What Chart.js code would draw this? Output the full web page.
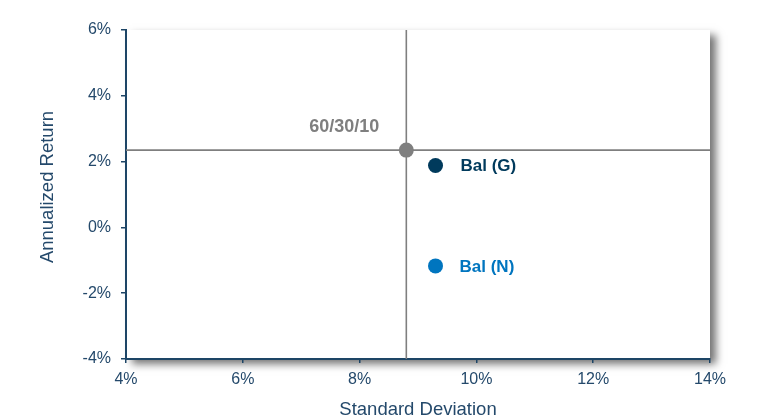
<!DOCTYPE html>
<html>
<head>
<meta charset="utf-8">
<script src="https://cdn.jsdelivr.net/npm/chart.js@4"></script>
<style>
    html, body { margin: 0; padding: 0; background: #fff; }
    #wrap { width: 765px; height: 417px; }
</style>
</head>
<body>
<div id="wrap"><canvas id="risk"></canvas></div>
<script>
// データ
const names = ['60/30/10', 'Bal (G)', 'Bal (N)'];
const stdDev = [8.8, 9.3, 9.3];
const annReturn = [2.35, 1.88, -1.17];
const pointColors = ['#7f7f7f', '#003a5c', '#0075bf'];
const xRange = [4, 14];
const yRange = [-4, 6];
const tickStep = 2;

// ベンチマーク(60/30/10)の十字線
const benchX = stdDev[0];
const benchY = annReturn[0];

const NAVY = '#1d4566';
const TEXT = '#24496b';
const FONT = "'Liberation Sans', Arial, sans-serif";

// プロット領域の影 + 縦軸タイトル
const shadowPlugin = {
    id: 'areaShadow',
    beforeDraw(chart) {
        const { ctx, chartArea: a } = chart;
        ctx.save();
        ctx.shadowColor = 'rgba(0,0,0,0.55)';
        ctx.shadowBlur = 8;
        ctx.shadowOffsetX = 6;
        ctx.shadowOffsetY = 5;
        ctx.fillStyle = '#fff';
        ctx.fillRect(a.left, a.top, a.right - a.left, a.bottom - a.top);
        ctx.restore();

        ctx.save();
        ctx.translate(48, 187);
        ctx.rotate(-Math.PI / 2);
        ctx.font = '18.5px ' + FONT;
        ctx.fillStyle = TEXT;
        ctx.textAlign = 'center';
        ctx.textBaseline = 'middle';
        ctx.fillText('Annualized Return', 0, 0);
        ctx.restore();
    }
};

// 点のラベル
const labelStyles = [
    { dx: -27, dy: -23, align: 'right', size: 18 },
    { dx: 25, dy: 1, align: 'left', size: 17 },
    { dx: 24, dy: 1, align: 'left', size: 17 },
];
const labelPlugin = {
    id: 'pointLabels',
    afterDatasetsDraw(chart) {
        const { ctx } = chart;
        const meta = chart.getDatasetMeta(0);
        ctx.save();
        ctx.textBaseline = 'middle';
        meta.data.forEach((pt, i) => {
            const o = labelStyles[i];
            ctx.font = 'bold ' + o.size + 'px ' + FONT;
            ctx.fillStyle = pointColors[i];
            ctx.textAlign = o.align;
            ctx.fillText(names[i], pt.x + o.dx, pt.y + o.dy);
        });
        ctx.restore();
    }
};

const points = stdDev.map((x, i) => ({ x, y: annReturn[i] }));

new Chart(document.getElementById('risk'), {
    type: 'scatter',
    data: {
        datasets: [
            {
                data: points,
                pointBackgroundColor: pointColors,
                pointBorderWidth: 0,
                pointRadius: 7.5,
                pointHoverRadius: 7.5,
            },
            {
                data: [{ x: benchX, y: yRange[0] }, { x: benchX, y: yRange[1] }],
                showLine: true,
                borderColor: '#7f7f7f',
                borderWidth: 1.6,
                pointRadius: 0,
            },
            {
                data: [{ x: xRange[0], y: benchY }, { x: xRange[1], y: benchY }],
                showLine: true,
                borderColor: '#7f7f7f',
                borderWidth: 1.6,
                pointRadius: 0,
            },
        ]
    },
    options: {
        responsive: true,
        maintainAspectRatio: false,
        animation: false,
        layout: { padding: { top: 30, right: 55, left: 0, bottom: 0 } },
        plugins: {
            legend: { display: false },
            tooltip: { enabled: false },
        },
        scales: {
            x: {
                min: xRange[0],
                max: xRange[1],
                afterFit: s => { s.height = 58; },
                ticks: {
                    stepSize: tickStep,
                    padding: 7,
                    color: TEXT,
                    font: { family: FONT, size: 16 },
                    callback: v => v + '%',
                },
                grid: { drawOnChartArea: false, tickLength: 4, color: NAVY, lineWidth: 1.5 },
                border: { color: NAVY, width: 2 },
                title: {
                    display: true,
                    text: 'Standard Deviation',
                    color: TEXT,
                    font: { family: FONT, size: 18.5, lineHeight: 0.8 },
                    padding: 0,
                },
            },
            y: {
                min: yRange[0],
                max: yRange[1],
                afterFit: s => { s.width = 126; },
                ticks: {
                    stepSize: tickStep,
                    padding: 10,
                    color: TEXT,
                    font: { family: FONT, size: 16 },
                    callback: v => v + '%',
                },
                grid: { drawOnChartArea: false, tickLength: 5, color: NAVY, lineWidth: 1.5 },
                border: { color: NAVY, width: 2 },
            }
        }
    },
    plugins: [shadowPlugin, labelPlugin]
});
</script>
</body>
</html>
